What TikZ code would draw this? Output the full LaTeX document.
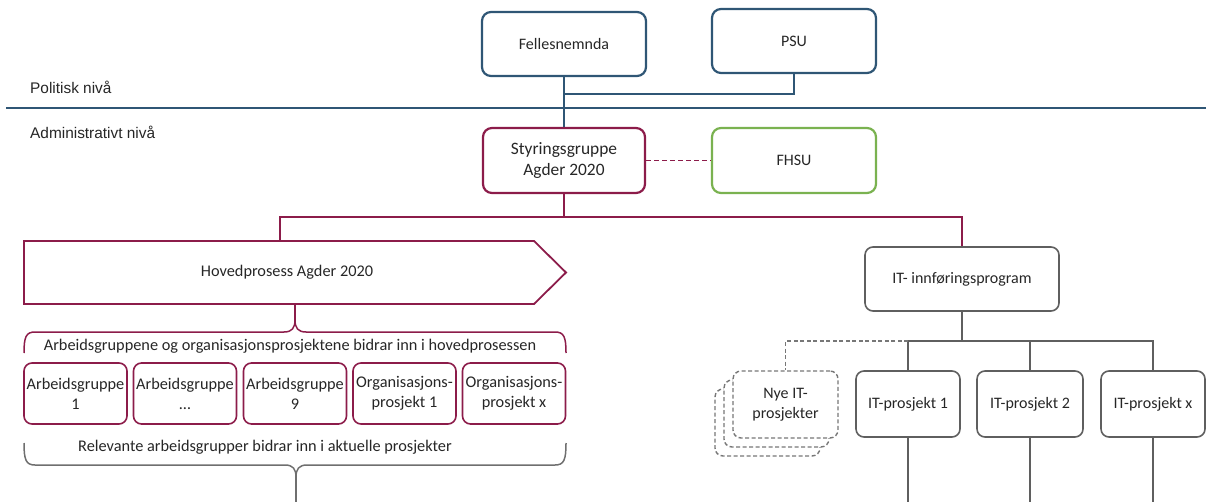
\documentclass[tikz,border=0pt]{standalone}
\usepackage{fontspec}
\setmainfont{Carlito}
\newfontfamily\arialfont{Liberation Sans}
\definecolor{cblue}{RGB}{47,86,117}
\definecolor{cred}{RGB}{140,28,74}
\definecolor{cgreen}{RGB}{122,178,80}
\definecolor{cgray}{RGB}{95,95,95}
\definecolor{ctext}{RGB}{38,38,38}
\begin{document}
\begin{tikzpicture}[x=1pt,y=-1pt,
  bigbox/.style={draw, rounded corners=9pt, line width=2.2pt, align=center, inner sep=0pt,
    minimum width=164pt, minimum height=64pt, text=ctext, font=\fontsize{16}{20}\selectfont},
  smallbox/.style={draw=cred, rounded corners=8pt, line width=1.6pt, align=center, inner sep=0pt,
    minimum width=103pt, minimum height=61pt, text=ctext, font=\fontsize{16.3}{20}\selectfont},
  itbox/.style={draw=cgray, rounded corners=8pt, line width=1.6pt, align=center, inner sep=0pt,
    minimum width=104pt, minimum height=66pt, text=ctext, font=\fontsize{16}{20}\selectfont},
  nyebox/.style={draw=cgray!85, dash pattern=on 4pt off 2.5pt, rounded corners=8pt, line width=1.4pt,
    align=center, inner sep=0pt, fill=white,
    minimum width=105pt, minimum height=67pt, text=ctext, font=\fontsize{16}{20}\selectfont},
  lbl/.style={text=ctext, inner sep=0pt, font=\fontsize{16.3}{20}\selectfont},
  levellbl/.style={text=ctext, inner sep=0pt, anchor=west, font=\arialfont\fontsize{15.4}{18}\selectfont},
  bluecon/.style={draw=cblue, line width=1.5pt},
  redcon/.style={draw=cred, line width=1.5pt},
  graycon/.style={draw=cgray, line width=1.5pt}
]
\useasboundingbox (0,0) rectangle (1206,502);

% level labels and rule
\node[levellbl] (pol) at (30,87) {Politisk nivå};
\node[levellbl] (adm) at (30,132) {Administrativt nivå};
\draw[bluecon] (6,108) -- (1206,108);

% top boxes
\node[bigbox, draw=cblue] (fell) at (564,44) {Fellesnemnda};
\node[bigbox, draw=cblue] (psu) at (794,41) {PSU};
\node[bigbox, draw=cred, minimum width=162pt, minimum height=65pt, font=\fontsize{17.4}{21}\selectfont] (sty) at (564,160.5) {Styringsgruppe\\Agder 2020};
\node[bigbox, draw=cgreen, minimum height=65pt] (fhsu) at (794,160.5) {FHSU};

\coordinate (j1) at (564,94);
\draw[bluecon] (fell) -- (sty);
\draw[bluecon] (psu.south) |- (j1);
\draw[redcon, dash pattern=on 5pt off 3pt] (sty) -- (fhsu);

% main process arrow
\draw[redcon, line width=1.8pt] (24,241) -- (534,241) -- (566,272.5) -- (534,304) -- (24,304) -- cycle;
\node[lbl] (hp) at (287,272.5) {Hovedprosess Agder 2020};
\coordinate (hptop) at (280,241);
\coordinate (bus) at (564,217);

% IT program
\node[itbox, minimum width=194pt, minimum height=64pt] (itp) at (962,279) {IT- innføringsprogram};

\draw[redcon] (sty) -- (bus);
\draw[redcon] (hptop) -- ++(0,-24) -| (itp.north);

% top brace (red)
\draw[redcon] (24,353) .. controls (24,337) and (26,332) .. (35,332) -- (284,332)
  .. controls (292,332) and (295,328) .. (295,320)
  .. controls (295,328) and (298,332) .. (306,332) -- (555,332)
  .. controls (564,332) and (566,337) .. (566,353);
\draw[redcon] (295,320) -- (295,304);
\node[lbl] (br1) at (290,346) {Arbeidsgruppene og organisasjonsprosjektene bidrar inn i hovedprosessen};

% small boxes
\node[smallbox] (ag1) at (75.5,393.5) {Arbeidsgruppe\\1};
\node[smallbox] (ag2) at (185,393.5) {Arbeidsgruppe\\…};
\node[smallbox] (ag3) at (295,393.5) {Arbeidsgruppe\\9};
\node[smallbox] (op1) at (404.5,393.5) {Organisasjons-\\prosjekt 1};
\node[smallbox] (opx) at (514,393.5) {Organisasjons-\\prosjekt x};

% bottom brace (gray)
\node[lbl] (br2) at (265,447) {Relevante arbeidsgrupper bidrar inn i aktuelle prosjekter};
\draw[graycon, draw=cgray!90] (24,443) .. controls (24,460) and (26,465) .. (35,465) -- (285,465)
  .. controls (293,465) and (296,469) .. (296,477)
  .. controls (296,469) and (299,465) .. (307,465) -- (555,465)
  .. controls (564,465) and (566,460) .. (566,443);
\coordinate (bot) at (0,502);
\draw[graycon, draw=cgray!90] (296,477) -- (296,502);

% IT projects
\node[nyebox] (nye3) at (767.5,422.5) {};
\node[nyebox] (nye2) at (776.5,413.5) {};
\node[nyebox] (nye) at (785.5,404.5) {Nye IT-\\prosjekter};
\node[itbox] (it1) at (908,404) {IT-prosjekt 1};
\node[itbox, minimum width=106pt] (it2) at (1030,404) {IT-prosjekt 2};
\node[itbox] (itx) at (1153,404) {IT-prosjekt x};

\coordinate (itbus) at (962,341);
\draw[graycon] (itp) -- (itbus);
\draw[graycon] (it1.north) |- (itx.north |- itbus) -- (itx.north);
\draw[graycon] (it2.north) -- (it2.north |- itbus);
\draw[graycon, draw=cgray!85, line width=1.4pt, dash pattern=on 4pt off 2.5pt] (it1.north |- itbus) -| (nye.north);
\draw[graycon] (it1.south) -- (it1.south |- bot);
\draw[graycon] (it2.south) -- (it2.south |- bot);
\draw[graycon] (itx.south) -- (itx.south |- bot);
\end{tikzpicture}
\end{document}
